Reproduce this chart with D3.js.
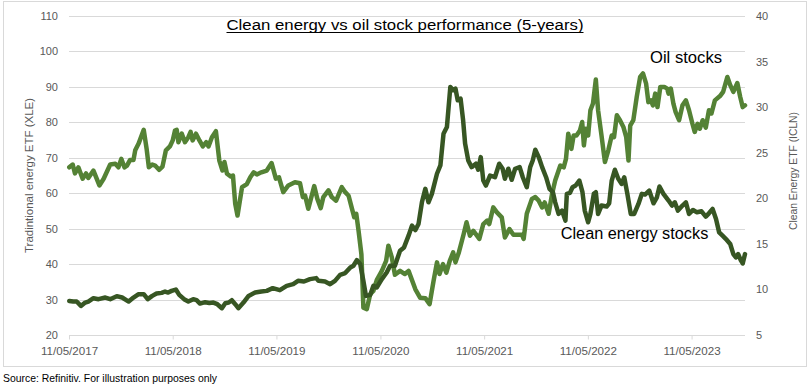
<!DOCTYPE html>
<html>
<head>
<meta charset="utf-8">
<script src="https://cdn.jsdelivr.net/npm/d3@7"></script>
<style>
  body { margin: 0; background: #fff; }
  svg text { font-family: "Liberation Sans", Arial, sans-serif; }
</style>
</head>
<body>
<div id="chart"></div>
<script>
// chart data
var titleText = "Clean energy vs oil stock performance (5-years)";
var leftTicks = [20, 30, 40, 50, 60, 70, 80, 90, 100, 110];
var rightTicks = [5, 10, 15, 20, 25, 30, 35, 40];
var yearTicks = ["2017-05-11", "2018-05-11", "2019-05-11", "2020-05-11", "2021-05-11", "2022-05-11", "2023-05-11"];
var dateRange = ["2017-05-11", "2023-11-15"];

// XLE (left axis)
var oilPrices = [
  ["2017-05-12",67.3],["2017-05-24",68.1],["2017-06-01",65.6],["2017-06-13",67.3],["2017-06-28",64.1],["2017-07-10",65.6],
  ["2017-07-18",64.3],["2017-08-05",66.4],["2017-08-26",62.2],["2017-09-10",64.1],["2017-10-03",68.1],["2017-10-21",68.3],
  ["2017-11-01",67.3],["2017-11-11",69.7],["2017-11-22",67.3],["2017-12-01",67.8],["2017-12-12",69.4],["2017-12-24",69.4],
  ["2017-12-30",72.1],["2018-01-11",74.0],["2018-01-29",77.9],["2018-02-08",72.6],["2018-02-16",67.3],["2018-02-28",68.1],
  ["2018-03-10",67.8],["2018-03-24",66.6],["2018-04-05",67.5],["2018-04-17",72.1],["2018-05-01",73.2],["2018-05-11",74.9],
  ["2018-05-19",77.7],["2018-05-25",77.9],["2018-05-31",74.4],["2018-06-12",76.8],["2018-06-23",74.4],["2018-07-05",75.8],
  ["2018-07-13",77.3],["2018-07-20",74.9],["2018-08-01",76.8],["2018-08-13",74.9],["2018-08-25",73.2],["2018-09-06",74.4],
  ["2018-09-14",73.2],["2018-09-26",75.8],["2018-10-10",77.5],["2018-10-22",69.2],["2018-11-02",66.4],["2018-11-09",68.8],
  ["2018-11-18",65.5],["2018-12-02",64.7],["2018-12-09",65.0],["2018-12-17",57.0],["2018-12-25",53.7],["2019-01-10",61.7],
  ["2019-01-27",62.6],["2019-02-08",64.5],["2019-02-20",65.9],["2019-03-03",65.3],["2019-03-19",65.9],["2019-04-07",66.4],
  ["2019-04-24",68.5],["2019-05-09",64.1],["2019-05-20",64.5],["2019-06-04",60.3],["2019-06-22",62.2],["2019-07-15",63.1],
  ["2019-08-02",62.8],["2019-08-12",58.9],["2019-08-20",59.3],["2019-08-31",55.6],["2019-09-21",62.0],["2019-10-02",58.4],
  ["2019-10-14",55.8],["2019-10-23",58.9],["2019-11-10",60.8],["2019-11-22",58.9],["2019-12-07",57.9],["2019-12-27",61.7],
  ["2020-01-08",60.3],["2020-01-20",59.3],["2020-02-01",55.6],["2020-02-09",53.2],["2020-02-16",54.2],["2020-02-24",49.4],
  ["2020-03-05",42.8],["2020-03-12",27.7],["2020-03-24",27.3],["2020-04-05",31.5],["2020-04-16",32.4],["2020-04-28",35.5],
  ["2020-05-16",38.1],["2020-05-31",40.9],["2020-06-08",45.2],["2020-06-20",41.9],["2020-07-01",37.0],["2020-07-19",38.1],
  ["2020-08-05",37.2],["2020-08-18",38.1],["2020-09-11",32.9],["2020-09-28",30.5],["2020-10-16",30.4],["2020-10-31",28.7],
  ["2020-11-14",35.3],["2020-11-26",40.5],["2020-12-05",37.2],["2020-12-17",40.0],["2020-12-29",37.6],["2021-01-10",40.9],
  ["2021-01-22",43.3],["2021-01-30",40.5],["2021-02-11",43.3],["2021-02-28",48.5],["2021-03-10",51.8],["2021-03-22",48.0],
  ["2021-04-03",49.4],["2021-04-24",47.1],["2021-05-08",51.3],["2021-05-22",52.3],["2021-05-29",51.3],["2021-06-12",56.0],
  ["2021-06-25",54.6],["2021-07-12",53.2],["2021-07-23",47.5],["2021-08-08",49.9],["2021-08-22",48.3],["2021-09-21",48.3],
  ["2021-09-27",47.1],["2021-10-08",54.2],["2021-10-26",58.4],["2021-11-07",58.9],["2021-11-19",57.9],["2021-12-01",56.0],
  ["2021-12-10",57.4],["2021-12-24",54.2],["2022-01-05",59.8],["2022-01-16",63.6],["2022-02-03",67.8],["2022-02-15",67.3],
  ["2022-02-23",69.7],["2022-03-03",76.8],["2022-03-14",72.5],["2022-03-22",76.3],["2022-04-01",76.3],["2022-04-13",77.7],
  ["2022-04-21",80.1],["2022-04-27",73.5],["2022-05-04",78.2],["2022-05-12",76.3],["2022-05-20",83.4],["2022-05-29",85.3],
  ["2022-06-08",92.1],["2022-06-16",83.4],["2022-06-28",76.3],["2022-07-10",68.8],["2022-07-22",72.1],["2022-08-03",76.3],
  ["2022-08-11",75.8],["2022-08-21",82.0],["2022-09-01",80.6],["2022-09-13",78.7],["2022-09-23",75.8],["2022-10-01",69.2],
  ["2022-10-07",79.1],["2022-10-18",80.6],["2022-10-30",87.2],["2022-11-11",92.8],["2022-11-21",93.8],["2022-12-02",90.9],
  ["2022-12-10",85.7],["2022-12-19",86.2],["2022-12-26",84.8],["2023-01-03",88.1],["2023-01-11",84.3],["2023-01-21",90.0],
  ["2023-02-04",90.0],["2023-02-14",89.5],["2023-02-19",88.1],["2023-02-27",89.5],["2023-03-08",85.3],["2023-03-16",82.9],
  ["2023-03-28",80.6],["2023-04-09",84.8],["2023-04-21",86.2],["2023-05-02",83.4],["2023-05-14",79.6],["2023-05-22",77.3],
  ["2023-06-01",79.6],["2023-06-09",78.2],["2023-06-19",80.6],["2023-06-30",78.5],["2023-07-11",83.4],["2023-07-20",82.5],
  ["2023-08-01",86.2],["2023-08-19",87.4],["2023-08-30",88.6],["2023-09-14",92.8],["2023-09-24",90.5],["2023-10-05",88.6],
  ["2023-10-19",91.1],["2023-10-29",87.2],["2023-11-07",84.3],["2023-11-15",84.8]
];

// ICLN (right axis)
var cleanPrices = [
  ["2017-05-12",8.74],["2017-05-26",8.67],["2017-06-07",8.67],["2017-06-22",8.19],["2017-07-07",8.56],["2017-07-18",8.67],
  ["2017-08-05",9.04],["2017-08-23",8.93],["2017-09-16",9.11],["2017-10-03",8.93],["2017-10-26",9.26],["2017-11-14",9.11],
  ["2017-12-07",8.67],["2017-12-24",9.11],["2018-01-11",9.48],["2018-01-29",9.48],["2018-02-12",8.93],["2018-02-28",9.29],
  ["2018-03-15",9.55],["2018-04-02",9.62],["2018-04-14",9.77],["2018-04-25",9.66],["2018-05-07",9.84],["2018-05-22",9.99],
  ["2018-06-03",9.40],["2018-06-20",8.93],["2018-07-05",8.67],["2018-07-22",8.93],["2018-08-03",8.82],["2018-08-15",8.45],
  ["2018-09-02",8.60],["2018-09-17",8.52],["2018-10-01",8.56],["2018-10-15",8.38],["2018-10-31",7.94],["2018-11-12",8.49],
  ["2018-11-24",8.56],["2018-12-05",8.82],["2018-12-17",8.38],["2018-12-28",7.94],["2019-01-15",8.56],["2019-02-02",9.29],
  ["2019-02-25",9.66],["2019-03-19",9.77],["2019-04-07",9.84],["2019-04-28",10.14],["2019-05-23",9.92],["2019-06-16",10.39],
  ["2019-07-09",10.58],["2019-07-26",10.94],["2019-08-16",10.87],["2019-09-06",11.13],["2019-09-28",11.24],["2019-10-06",10.94],
  ["2019-10-29",10.87],["2019-11-16",10.58],["2019-12-03",10.94],["2019-12-21",11.60],["2020-01-08",11.79],["2020-01-26",12.41],
  ["2020-02-06",12.60],["2020-02-18",13.22],["2020-03-01",12.78],["2020-03-12",10.94],["2020-03-21",9.29],["2020-04-05",9.40],
  ["2020-04-16",10.39],["2020-04-28",10.21],["2020-05-16",11.13],["2020-06-02",11.86],["2020-06-14",12.60],["2020-07-01",12.60],
  ["2020-07-19",14.25],["2020-08-02",14.61],["2020-08-18",15.90],["2020-08-30",17.00],["2020-09-11",16.52],["2020-09-22",17.18],
  ["2020-10-04",19.56],["2020-10-16",21.04],["2020-10-27",19.56],["2020-11-08",20.49],["2020-11-26",22.69],["2020-12-08",23.60],
  ["2020-12-19",27.09],["2020-12-31",27.82],["2021-01-12",32.22],["2021-01-22",31.86],["2021-01-30",32.04],["2021-02-07",30.75],
  ["2021-02-17",30.94],["2021-02-26",28.55],["2021-03-05",25.99],["2021-03-16",24.15],["2021-03-28",23.42],["2021-04-12",23.79],
  ["2021-04-20",23.13],["2021-04-29",24.52],["2021-05-08",21.95],["2021-05-17",21.40],["2021-06-01",22.50],["2021-06-18",22.31],
  ["2021-07-03",23.79],["2021-07-15",23.24],["2021-07-23",22.14],["2021-08-04",23.24],["2021-08-16",22.03],["2021-08-28",23.24],
  ["2021-09-13",23.42],["2021-09-24",22.31],["2021-10-08",21.21],["2021-10-20",23.42],["2021-10-29",24.15],["2021-11-07",25.33],
  ["2021-11-19",24.52],["2021-12-01",23.42],["2021-12-15",22.31],["2021-12-27",21.04],["2022-01-08",20.67],["2022-01-16",19.56],
  ["2022-01-28",18.28],["2022-02-09",18.65],["2022-02-21",17.55],["2022-02-26",20.49],["2022-03-09",20.60],["2022-03-18",21.21],
  ["2022-03-29",21.40],["2022-04-11",21.95],["2022-04-22",20.67],["2022-04-30",18.65],["2022-05-12",17.37],["2022-05-20",18.28],
  ["2022-06-01",20.49],["2022-06-08",20.67],["2022-06-16",18.28],["2022-06-28",19.20],["2022-07-16",19.09],["2022-07-25",19.45],
  ["2022-08-03",21.95],["2022-08-14",23.13],["2022-08-26",22.14],["2022-09-07",21.58],["2022-09-16",22.31],["2022-09-27",20.49],
  ["2022-10-09",18.28],["2022-10-21",18.28],["2022-11-05",19.38],["2022-11-17",20.49],["2022-11-28",20.41],["2022-12-13",20.85],
  ["2022-12-28",19.45],["2023-01-09",20.11],["2023-01-18",21.29],["2023-02-01",20.49],["2023-02-19",19.75],["2023-03-03",19.20],
  ["2023-03-13",19.56],["2023-03-24",18.65],["2023-04-09",19.20],["2023-04-21",19.56],["2023-05-02",18.28],["2023-05-16",18.72],
  ["2023-05-30",18.46],["2023-06-15",18.57],["2023-06-30",17.99],["2023-07-11",18.35],["2023-07-24",18.83],["2023-08-05",17.73],
  ["2023-08-16",16.26],["2023-08-28",15.90],["2023-09-09",15.53],["2023-09-24",14.98],["2023-10-05",13.88],["2023-10-14",13.51],
  ["2023-10-22",13.88],["2023-10-31",13.22],["2023-11-07",12.85],["2023-11-15",13.88]
];

// dimensions
var svgWidth = 809;
var svgHeight = 387;
var plot = { left: 69, right: 745, top: 16, bottom: 335 };

var oilColor = "#548235";
var cleanColor = "#375623";
var gridColor = "#d9d9d9";
var labelColor = "#595959";

var parseDate = d3.timeParse("%Y-%m-%d");

var svg = d3.select("#chart")
    .append("svg")
    .attr("width", svgWidth)
    .attr("height", svgHeight);

// chart border
svg.append("rect")
    .attr("x", 3.5)
    .attr("y", 1.5)
    .attr("width", 803)
    .attr("height", 365)
    .attr("fill", "none")
    .attr("stroke", gridColor);

// scales
var x = d3.scaleTime()
    .domain(dateRange.map(parseDate))
    .range([plot.left, plot.right]);

var yLeft = d3.scaleLinear()
    .domain([20, 110])
    .range([plot.bottom, plot.top]);

var yRight = d3.scaleLinear()
    .domain([5, 40])
    .range([plot.bottom, plot.top]);

// gridlines
svg.append("g")
    .selectAll("line")
    .data(leftTicks)
    .enter()
    .append("line")
    .attr("x1", plot.left)
    .attr("x2", plot.right)
    .attr("y1", function (d) { return Math.round(yLeft(d)) + 0.5; })
    .attr("y2", function (d) { return Math.round(yLeft(d)) + 0.5; })
    .attr("stroke", gridColor)
    .attr("stroke-width", 1);

// left axis
var leftAxis = svg.append("g")
    .attr("transform", "translate(" + plot.left + ",0)")
    .call(d3.axisLeft(yLeft).tickValues(leftTicks).tickSize(0).tickPadding(11));

// right axis
var rightAxis = svg.append("g")
    .attr("transform", "translate(" + plot.right + ",0)")
    .call(d3.axisRight(yRight).tickValues(rightTicks).tickSize(0).tickPadding(11));

// bottom axis
var bottomAxis = svg.append("g")
    .attr("transform", "translate(0," + (Math.round(plot.bottom) + 0.5) + ")")
    .call(d3.axisBottom(x)
        .tickValues(yearTicks.map(parseDate))
        .tickFormat(d3.timeFormat("%d/%m/%Y"))
        .tickSize(4)
        .tickPadding(7));

[leftAxis, rightAxis, bottomAxis].forEach(function (axis) {
    axis.select(".domain").remove();
    axis.selectAll("line").attr("stroke", gridColor);
    axis.selectAll("text")
        .attr("fill", labelColor)
        .style("font-size", "11px")
        .style("font-family", "'Liberation Sans', Arial, sans-serif");
});

// date labels are a touch wider in the original
bottomAxis.selectAll("text").style("font-size", "11.6px");

// lines
var oilLine = d3.line()
    .x(function (d) { return x(parseDate(d[0])); })
    .y(function (d) { return yLeft(d[1]); });

var cleanLine = d3.line()
    .x(function (d) { return x(parseDate(d[0])); })
    .y(function (d) { return yRight(d[1]); });

svg.append("path")
    .datum(oilPrices)
    .attr("d", oilLine)
    .attr("fill", "none")
    .attr("stroke", oilColor)
    .attr("stroke-width", 4.5)
    .attr("stroke-linejoin", "round")
    .attr("stroke-linecap", "round");

svg.append("path")
    .datum(cleanPrices)
    .attr("d", cleanLine)
    .attr("fill", "none")
    .attr("stroke", cleanColor)
    .attr("stroke-width", 4.5)
    .attr("stroke-linejoin", "round")
    .attr("stroke-linecap", "round");

// title (underlined)
svg.append("text")
    .attr("x", 405)
    .attr("y", 29.5)
    .attr("text-anchor", "middle")
    .attr("textLength", 357)
    .attr("lengthAdjust", "spacingAndGlyphs")
    .style("font-size", "15.5px")
    .attr("fill", "#000")
    .text(titleText);

svg.append("line")
    .attr("x1", 226.5)
    .attr("x2", 583.5)
    .attr("y1", 32.5)
    .attr("y2", 32.5)
    .attr("stroke", "#000")
    .attr("stroke-width", 1);

// axis titles
svg.append("text")
    .attr("transform", "translate(33,175.5) rotate(-90)")
    .attr("text-anchor", "middle")
    .attr("textLength", 155)
    .attr("lengthAdjust", "spacingAndGlyphs")
    .style("font-size", "11.5px")
    .attr("fill", labelColor)
    .text("Tradintional energy ETF (XLE)");

svg.append("text")
    .attr("transform", "translate(796.5,171) rotate(-90)")
    .attr("text-anchor", "middle")
    .attr("textLength", 118)
    .attr("lengthAdjust", "spacingAndGlyphs")
    .style("font-size", "11.5px")
    .attr("fill", labelColor)
    .text("Clean Energy ETF (ICLN)");

// series annotations
svg.append("text")
    .attr("x", 650)
    .attr("y", 63.3)
    .attr("textLength", 72)
    .attr("lengthAdjust", "spacingAndGlyphs")
    .style("font-size", "16px")
    .attr("fill", "#000")
    .text("Oil stocks");

svg.append("text")
    .attr("x", 560.7)
    .attr("y", 239.3)
    .attr("textLength", 147.6)
    .attr("lengthAdjust", "spacingAndGlyphs")
    .style("font-size", "16px")
    .attr("fill", "#000")
    .text("Clean energy stocks");

// source note
svg.append("text")
    .attr("x", 3)
    .attr("y", 382)
    .attr("textLength", 214)
    .attr("lengthAdjust", "spacingAndGlyphs")
    .style("font-size", "11px")
    .attr("fill", "#000")
    .text("Source: Refinitiv. For illustration purposes only");
</script>
</body>
</html>
